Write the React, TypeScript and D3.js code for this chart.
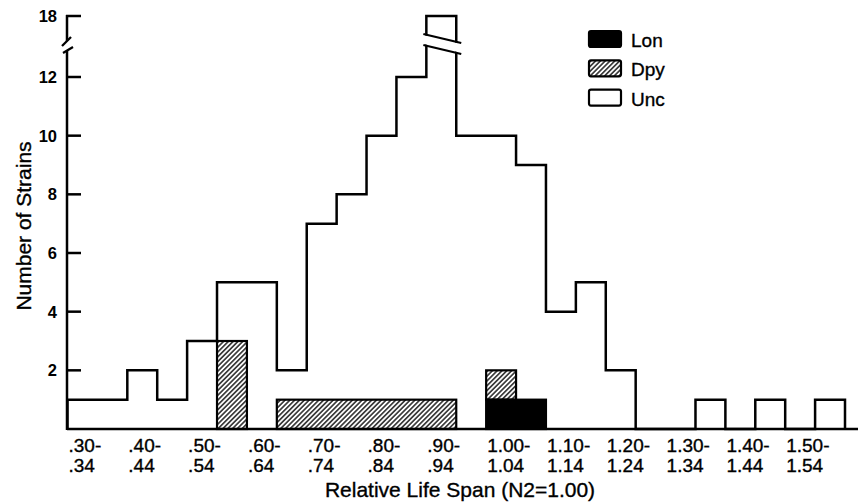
import { useEffect, useRef } from "react";
import * as d3 from "d3";

// bin lower edges (width 0.05)
const binStarts = [
  0.3, 0.35, 0.4, 0.45, 0.5, 0.55, 0.6, 0.65, 0.7, 0.75, 0.8, 0.85, 0.9,
  0.95, 1.0, 1.05, 1.1, 1.15, 1.2, 1.25, 1.3, 1.35, 1.4, 1.45, 1.5, 1.55,
];
const lonCounts = [
  0, 0, 0, 0, 0, 0, 0, 0, 0, 0, 0, 0, 0, 0, 1, 1, 0, 0, 0, 0, 0, 0, 0, 0, 0, 0,
];
const dpyCounts = [
  0, 0, 0, 0, 0, 3, 0, 1, 1, 1, 1, 1, 1, 0, 1, 0, 0, 0, 0, 0, 0, 0, 0, 0, 0, 0,
];
const uncCounts = [
  1, 1, 2, 1, 3, 2, 5, 1, 6, 7, 9, 11, 17, 10, 8, 8, 4, 5, 2, 0, 0, 1, 0, 1, 0, 1,
];
const tickStarts = [0.3, 0.4, 0.5, 0.6, 0.7, 0.8, 0.9, 1.0, 1.1, 1.2, 1.3, 1.4, 1.5];
const tickTop = [".30-", ".40-", ".50-", ".60-", ".70-", ".80-", ".90-", "1.00-", "1.10-", "1.20-", "1.30-", "1.40-", "1.50-"];
const tickBottom = [".34", ".44", ".54", ".64", ".74", ".84", ".94", "1.04", "1.14", "1.24", "1.34", "1.44", "1.54"];
const yTicks = [2, 4, 6, 8, 10, 12, 18];
const legendLabels = ["Lon", "Dpy", "Unc"];

const FONT = "'Liberation Sans', Arial, sans-serif";
const BIN = 0.05;

export default function App() {
  const svgRef = useRef<SVGSVGElement>(null);

  useEffect(() => {
    if (!svgRef.current) return;
    const svg = d3.select(svgRef.current);
    svg.selectAll("*").remove();

    const x = d3.scaleLinear().domain([0.3, 1.6]).range([67.5, 845]);
    // axis broken between 12 and 18
    const y = d3.scaleLinear().domain([0, 12, 18]).range([429, 77, 16]);
    const x0 = 67;

    // Hatch pattern
    const defs = svg.append("defs");
    const pat = defs
      .append("pattern")
      .attr("id", "hatch")
      .attr("patternUnits", "userSpaceOnUse")
      .attr("width", 3.4)
      .attr("height", 3.4)
      .attr("patternTransform", "rotate(45)");
    pat.append("rect").attr("width", 3.4).attr("height", 3.4).attr("fill", "#fff");
    pat
      .append("line")
      .attr("x1", 1.7)
      .attr("y1", 0)
      .attr("x2", 1.7)
      .attr("y2", 3.4)
      .attr("stroke", "#000")
      .attr("stroke-width", 1.3);

    svg.append("rect").attr("width", 862).attr("height", 503).attr("fill", "#fff");

    // merge consecutive bins with same base/top into one box
    const runs = (vals: number[], bases: number[]) => {
      const out: { a: number; b: number; lo: number; hi: number }[] = [];
      vals.forEach((v, i) => {
        if (!v) return;
        const lo = bases[i];
        const hi = lo + v;
        const last = out[out.length - 1];
        if (last && last.b === i && last.lo === lo && last.hi === hi) last.b = i + 1;
        else out.push({ a: i, b: i + 1, lo, hi });
      });
      return out;
    };

    const zeros = binStarts.map(() => 0);
    const lonRuns = runs(lonCounts, zeros);
    const dpyRuns = runs(dpyCounts, lonCounts);

    const drawRuns = (rs: typeof lonRuns, fill: string) => {
      svg
        .append("g")
        .selectAll("rect")
        .data(rs)
        .enter()
        .append("rect")
        .attr("x", (d) => x(binStarts[d.a]))
        .attr("width", (d) => x(binStarts[d.b - 1] + BIN) - x(binStarts[d.a]))
        .attr("y", (d) => y(d.hi))
        .attr("height", (d) => y(d.lo) - y(d.hi))
        .attr("fill", fill)
        .attr("stroke", "#000")
        .attr("stroke-width", 2.2);
    };
    drawRuns(dpyRuns, "url(#hatch)");
    drawRuns(lonRuns, "#000");

    // total outline (Unc on top)
    const totals = binStarts.map((_, i) => lonCounts[i] + dpyCounts[i] + uncCounts[i]);
    const pts: [number, number][] = [[binStarts[0], 0]];
    binStarts.forEach((b, i) => pts.push([b, totals[i]]));
    pts.push([binStarts[binStarts.length - 1] + BIN, 0]);
    const line = d3
      .line<[number, number]>()
      .x((d) => x(d[0]))
      .y((d) => y(d[1]))
      .curve(d3.curveStepAfter);
    svg
      .append("path")
      .datum(pts)
      .attr("d", line)
      .attr("fill", "none")
      .attr("stroke", "#000")
      .attr("stroke-width", 2.5)
      .attr("stroke-linejoin", "miter");

    // break on the tallest bar
    const peak = totals.indexOf(d3.max(totals) as number);
    const xl = x(binStarts[peak]) - 3;
    const xr = x(binStarts[peak] + BIN) + 5;
    const yt = y(18);
    svg
      .append("polygon")
      .attr("points", `${xl},${yt + 19} ${xr},${yt + 28} ${xr},${yt + 37} ${xl},${yt + 28}`)
      .attr("fill", "#fff");
    [18, 29].forEach((off) => {
      svg
        .append("line")
        .attr("x1", xl)
        .attr("y1", yt + off)
        .attr("x2", xr)
        .attr("y2", yt + off + 9)
        .attr("stroke", "#000")
        .attr("stroke-width", 2.3);
    });

    // X axis baseline
    svg
      .append("line")
      .attr("x1", x0)
      .attr("x2", 858)
      .attr("y1", y(0))
      .attr("y2", y(0))
      .attr("stroke", "#000")
      .attr("stroke-width", 2.5);

    // Y axis
    svg
      .append("line")
      .attr("x1", x0)
      .attr("x2", x0)
      .attr("y1", y(0) + 1)
      .attr("y2", yt - 1)
      .attr("stroke", "#000")
      .attr("stroke-width", 2.5);
    svg
      .append("polygon")
      .attr("points", `${x0 - 6},${yt + 29} ${x0 + 5},${yt + 20} ${x0 + 6},${yt + 30} ${x0 - 5},${yt + 37}`)
      .attr("fill", "#fff");
    [
      [x0 - 5, yt + 30, x0 + 4, yt + 21],
      [x0 - 4, yt + 37, x0 + 6, yt + 31],
    ].forEach(([a, b, c, d]) => {
      svg
        .append("line")
        .attr("x1", a)
        .attr("y1", b)
        .attr("x2", c)
        .attr("y2", d)
        .attr("stroke", "#000")
        .attr("stroke-width", 2.3);
    });

    // Y ticks
    const yg = svg.append("g");
    yg.selectAll("line")
      .data(yTicks)
      .enter()
      .append("line")
      .attr("x1", x0 - 1)
      .attr("x2", x0 + 14)
      .attr("y1", (d) => y(d))
      .attr("y2", (d) => y(d))
      .attr("stroke", "#000")
      .attr("stroke-width", 2.5);
    yg.selectAll("text")
      .data(yTicks)
      .enter()
      .append("text")
      .attr("x", 57)
      .attr("y", (d) => y(d) + 6)
      .attr("text-anchor", "end")
      .attr("font-family", FONT)
      .attr("font-size", 16.5)
      .attr("font-weight", "bold")
      .text((d) => d);

    // X tick labels (two lines)
    const xg = svg
      .append("g")
      .attr("font-family", FONT)
      .attr("font-size", 19)
      .attr("stroke", "#000")
      .attr("stroke-width", 0.35);
    tickStarts.forEach((t, i) => {
      const tx = x(t) + 1;
      xg.append("text").attr("x", tx).attr("y", 452).text(tickTop[i]);
      xg.append("text").attr("x", tx).attr("y", 472).text(tickBottom[i]);
    });

    // Axis titles
    svg
      .append("text")
      .attr("x", 460)
      .attr("y", 497)
      .attr("text-anchor", "middle")
      .attr("font-family", FONT)
      .attr("font-size", 21)
      .attr("stroke", "#000")
      .attr("stroke-width", 0.35)
      .text("Relative Life Span (N2=1.00)");
    svg
      .append("text")
      .attr("transform", "translate(31,226) rotate(-90)")
      .attr("text-anchor", "middle")
      .attr("font-family", FONT)
      .attr("font-size", 21)
      .attr("stroke", "#000")
      .attr("stroke-width", 0.35)
      .text("Number of Strains");

    // Legend
    const fills = ["#000", "url(#hatch)", "#fff"];
    const legend = svg.append("g").attr("transform", "translate(589,31)");
    legendLabels.forEach((lab, i) => {
      const g = legend.append("g").attr("transform", `translate(0,${i * 29.3})`);
      g.append("rect")
        .attr("width", 32)
        .attr("height", 16)
        .attr("rx", 2)
        .attr("fill", fills[i])
        .attr("stroke", "#000")
        .attr("stroke-width", 2.2);
      g.append("text")
        .attr("x", 42)
        .attr("y", 16)
        .attr("font-family", FONT)
        .attr("font-size", 19)
        .attr("stroke", "#000")
        .attr("stroke-width", 0.35)
        .text(lab);
    });
  }, []);

  return (
    <svg
      ref={svgRef}
      width={862}
      height={503}
      style={{ position: "absolute", left: 0, top: 0 }}
    />
  );
}
